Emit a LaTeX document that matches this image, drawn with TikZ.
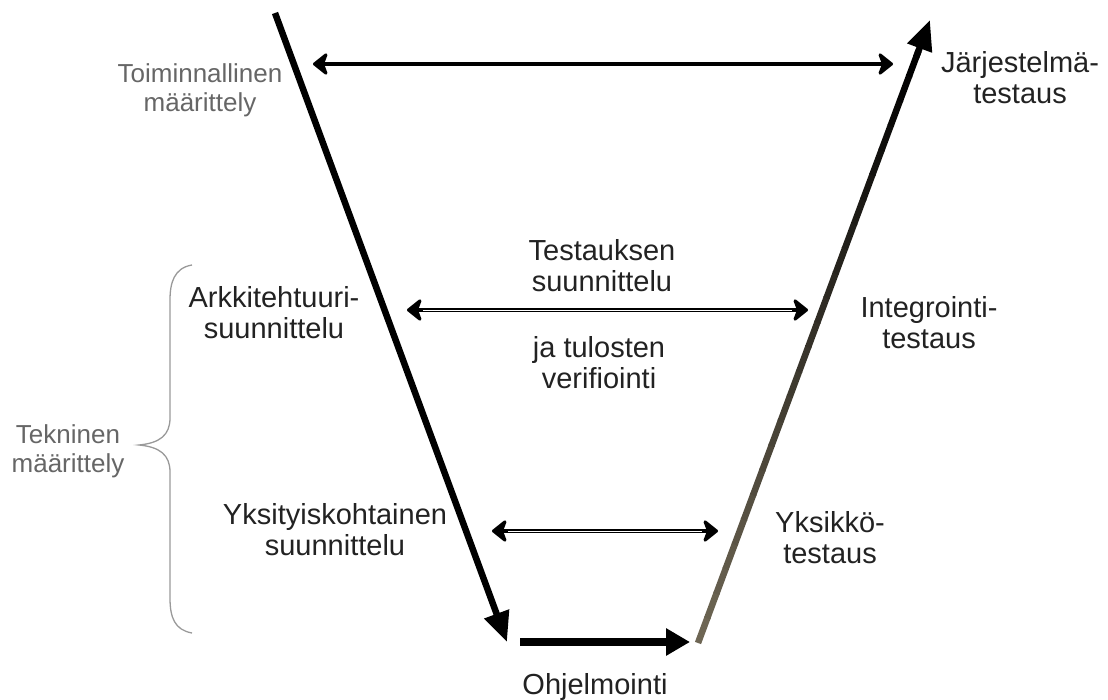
\documentclass[tikz,border=0pt]{standalone}
\usepackage{fontspec}
\setmainfont{Liberation Sans}
\usetikzlibrary{arrows.meta,calc}
\definecolor{lbl}{HTML}{666666}
\definecolor{txtc}{HTML}{222222}
\definecolor{rbot}{HTML}{6E6654}
\definecolor{bracec}{HTML}{999999}
\begin{document}
\begin{tikzpicture}[x=1pt,y=-1pt,
  txt/.style={align=center, font=\fontsize{29}{31}\selectfont, text=txtc, inner sep=0pt},
  gtxt/.style={align=center, font=\fontsize{26}{29}\selectfont, text=lbl, inner sep=0pt},
  mainline/.style={line width=6.5pt, line cap=butt},
  bighead/.style={-{Triangle[length=30pt,width=25pt]}},
  harr/.style={line width=4.5pt, {Stealth[length=17pt,width=27pt,inset=5pt,round]}-{Stealth[length=17pt,width=27pt,inset=5pt,round]}},
  gap/.style={white, line width=0.9pt},
  bracestyle/.style={bracec, line width=1.3pt}]
\useasboundingbox (0,0) rectangle (1108,700);

% main V coordinates
\coordinate (lt) at (275,13);
\coordinate (lb) at (507,642);
\coordinate (rb) at (698,643);
\coordinate (rt) at (930,20);
\coordinate (bl) at (520,642);
\coordinate (br) at (690,642);
\coordinate (rh) at ($(rt)!34pt!(rb)$);

% left descending arrow
\draw[mainline, bighead, black] (lt) -- (lb);

% right ascending arrow with gradient
\foreach \i in {0,...,23} {
  \pgfmathsetmacro\p{100*\i/23}
  \draw[line width=6.5pt, color=black!\p!rbot] ($(rb)!{\i/24}!(rh)$) -- ($(rb)!{(\i+1.05)/24}!(rh)$);
}
\draw[mainline, black, -{Triangle[length=30pt,width=25pt]}] ($(rt)!40pt!(rb)$) -- (rt);

% bottom arrow
\draw[line width=8pt, black, -{Triangle[length=24pt,width=26pt]}] (bl) -- (br);

% horizontal arrows
\coordinate (t1) at (313,64);
\coordinate (t2) at (893,64);
\coordinate (m1) at (407,310);
\coordinate (m2) at (808,310);
\coordinate (u1) at (492,531);
\coordinate (u2) at (718,531);
\draw[harr] (t1) -- (t2);
\draw[harr] (m1) -- (m2);
\draw[gap] ($(m1)+(16,0)$) -- ($(m2)-(16,0)$);
\draw[harr] (u1) -- (u2);
\draw[gap] ($(u1)+(16,0)$) -- ($(u2)-(16,0)$);

% brace
\coordinate (bt) at (192,265);
\coordinate (bm) at (139,445);
\coordinate (bb) at (192,633);
\draw[bracestyle] (bt) .. controls (174,268) and (170,283) .. (170,300) -- (170,418)
  .. controls (170,435) and (160,443) .. (bm)
  .. controls (160,447) and (170,455) .. (170,472) -- (170,598)
  .. controls (170,618) and (175,630) .. (bb);

% labels
\node[gtxt] (toim) at (200,90) {Toiminnallinen\\määrittely};
\node[txt] (jarj) at (1020,78) {Järjestelmä-\\testaus};
\node[txt] (tsuun) at (602,266) {Testauksen\\suunnittelu};
\node[txt] (ver) at (599,363) {ja tulosten\\verifiointi};
\node[txt] (ark) at (274,313) {Arkkitehtuuri-\\suunnittelu};
\node[txt] (int) at (929,323) {Integrointi-\\testaus};
\node[gtxt] (tek) at (68,451) {Tekninen\\määrittely};
\node[txt] (yks) at (335,530) {Yksityiskohtainen\\suunnittelu};
\node[txt] (yksk) at (830,538) {Yksikkö-\\testaus};
\node[txt] (ohj) at (595,687) {Ohjelmointi};
\end{tikzpicture}
\end{document}
